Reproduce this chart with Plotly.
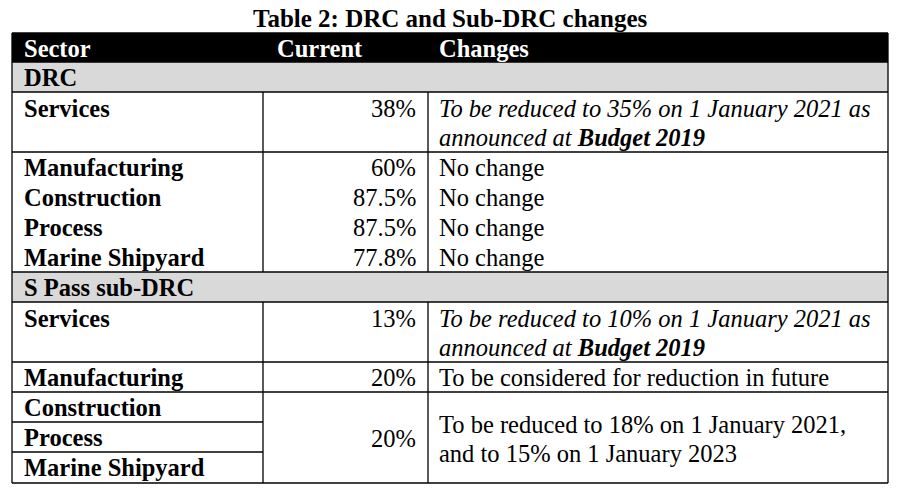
import plotly.graph_objects as go

title = "Table 2: DRC and Sub-DRC changes"
headers = ["Sector", "Current", "Changes"]
groups = ["DRC", "S Pass sub-DRC"]
drc_sectors = ["Services", "Manufacturing", "Construction", "Process", "Marine Shipyard"]
drc_current = ["38%", "60%", "87.5%", "87.5%", "77.8%"]
drc_changes = ["<i>To be reduced to 35% on 1 January 2021 as<br>announced at <b>Budget 2019</b></i>",
               "No change", "No change", "No change", "No change"]
sp_sectors = ["Services", "Manufacturing", "Construction", "Process", "Marine Shipyard"]
sp_current = ["13%", "20%", "20%"]
sp_changes = ["<i>To be reduced to 10% on 1 January 2021 as<br>announced at <b>Budget 2019</b></i>",
              "To be considered for reduction in future",
              "To be reduced to 18% on 1 January 2021,<br>and to 15% on 1 January 2023"]

FONT = "Liberation Serif"
L, R, C1, C2 = 12, 888, 263, 428
fs = 24.5
shapes, ann = [], []

def rect(x0, y0, x1, y1, fill):
    shapes.append(dict(type="rect", x0=x0, x1=x1, y0=y0, y1=y1, fillcolor=fill,
                       line=dict(width=0), layer="below"))

def line(x0, y0, x1, y1, w=1.3):
    shapes.append(dict(type="line", x0=x0, x1=x1, y0=y0, y1=y1, line=dict(color="black", width=w)))

def text(x, y, s, anchor="left", bold=False, color="black", size=fs):
    ann.append(dict(x=x, y=y, text=(f"<b>{s}</b>" if bold else s), showarrow=False,
                    xanchor=anchor, yanchor="middle", align="left",
                    font=dict(family=FONT, size=size, color=color)))

def multiline(x, y, s, gap=29):
    italic = s.startswith("<i>")
    parts = s.replace("<i>", "").replace("</i>", "").split("<br>")
    for i, p in enumerate(parts):
        text(x, y + i * gap, f"<i>{p}</i>" if italic else p)

text(450, 18, title, anchor="center", bold=True, size=25)

rect(L, 33, R, 62, "black")
for x, h in zip([22, 275, 437], headers):
    text(x, 48, h, bold=True, color="white")

rect(L, 62, R, 92, "#d9d9d9")
text(22, 77, groups[0], bold=True)
rect(L, 272, R, 302, "#d9d9d9")
text(22, 287, groups[1], bold=True)

drc_rows = [(92, 152), (152, 182), (182, 212), (212, 242), (242, 272)]
for (y0, y1), s, c, ch in zip(drc_rows, drc_sectors, drc_current, drc_changes):
    ty = y0 + 16 if y1 - y0 > 40 else (y0 + y1) / 2
    text(22, ty, s, bold=True); text(418, ty, c, anchor="right")
    multiline(437, ty, ch)

sp_rows = [(302, 362), (362, 392), (392, 422), (422, 452), (452, 483)]
for (y0, y1), s in zip(sp_rows, sp_sectors):
    ty = y0 + 16 if y1 - y0 > 40 else (y0 + y1) / 2
    text(22, ty, s, bold=True)
text(418, 318, sp_current[0], anchor="right"); multiline(437, 318, sp_changes[0])
text(418, 377, sp_current[1], anchor="right"); multiline(437, 377, sp_changes[1])
text(418, 438, sp_current[2], anchor="right"); multiline(437, 424, sp_changes[2])

for y in [33, 62, 92, 152, 272, 302, 362, 392, 483]:
    line(L, y, R, y)
for y in [422, 452]:
    line(L, y, C1, y)
line(L, 33, L, 483); line(R, 33, R, 483)
for x in [C1, C2]:
    line(x, 92, x, 272); line(x, 302, x, 483)

fig = go.Figure()
fig.update_layout(width=897, height=495, margin=dict(l=0, r=0, t=0, b=0),
                  paper_bgcolor="white", plot_bgcolor="white",
                  xaxis=dict(range=[8, 905], visible=False, fixedrange=True),
                  yaxis=dict(range=[503, 8], visible=False, fixedrange=True),
                  shapes=shapes, annotations=ann, showlegend=False)
fig.write_html("out.html")
